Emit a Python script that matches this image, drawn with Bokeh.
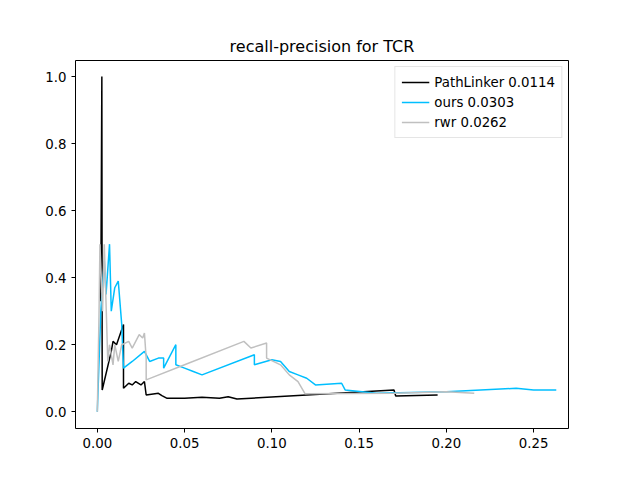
import numpy as np
from bokeh.plotting import figure
from bokeh.models import Range1d, FixedTicker
from bokeh.embed import file_html
from bokeh.resources import INLINE

pl_recall = [0.002, 0.0026, 0.0028, 0.008, 0.009, 0.011, 0.015, 0.015, 0.018, 0.020, 0.022,
             0.025, 0.027, 0.028, 0.035, 0.037, 0.040, 0.050, 0.060, 0.070, 0.075, 0.080,
             0.120, 0.170, 0.171, 0.195]
pl_prec = [0.33, 1.0, 0.065, 0.18, 0.21, 0.20, 0.26, 0.07, 0.085, 0.08, 0.09,
           0.08, 0.09, 0.05, 0.055, 0.048, 0.04, 0.04, 0.043, 0.04, 0.045, 0.038,
           0.05, 0.065, 0.047, 0.05]

ours_recall = [0.0, 0.002, 0.004, 0.005, 0.007, 0.008, 0.010, 0.012, 0.014, 0.015, 0.020,
               0.027, 0.030, 0.035, 0.038, 0.038, 0.045, 0.045, 0.050, 0.055, 0.060, 0.090,
               0.090, 0.100, 0.105, 0.110, 0.115, 0.120, 0.125, 0.140, 0.142, 0.160, 0.200,
               0.240, 0.250, 0.263]
ours_prec = [0.0, 0.30, 0.45, 0.35, 0.50, 0.30, 0.37, 0.39, 0.26, 0.13, 0.15,
             0.18, 0.15, 0.16, 0.16, 0.13, 0.20, 0.14, 0.13, 0.12, 0.11, 0.17,
             0.14, 0.155, 0.15, 0.12, 0.11, 0.10, 0.08, 0.085, 0.065, 0.055, 0.06,
             0.07, 0.065, 0.065]

rwr_recall = [0.0, 0.001, 0.0015, 0.003, 0.004, 0.006, 0.007, 0.009, 0.010, 0.012, 0.014,
              0.018, 0.020, 0.024, 0.026, 0.027, 0.028, 0.028, 0.050, 0.084, 0.088, 0.097,
              0.097, 0.105, 0.110, 0.115, 0.119, 0.170, 0.200, 0.216]
rwr_prec = [0.0, 0.30, 0.50, 0.30, 0.50, 0.15, 0.20, 0.14, 0.20, 0.15, 0.20,
            0.21, 0.19, 0.23, 0.22, 0.235, 0.16, 0.095, 0.14, 0.21, 0.19, 0.205,
            0.16, 0.14, 0.11, 0.09, 0.054, 0.055, 0.06, 0.055]

p = figure(width=624, height=464, title="recall-precision for TCR",
           output_backend="svg", toolbar_location=None,
           x_range=Range1d(-0.0125, 0.27), y_range=Range1d(-0.05, 1.048),
           min_border_left=75, min_border_right=56, min_border_top=60, min_border_bottom=36)
p.title.align = "center"
p.title.text_font = "DejaVu Sans"
p.title.text_font_size = "12pt"
p.title.text_font_style = "normal"
p.title.text_color = "black"
p.grid.visible = False
p.outline_line_color = "black"
p.xaxis.ticker = FixedTicker(ticks=[0, 0.05, 0.1, 0.15, 0.2, 0.25])
p.yaxis.ticker = FixedTicker(ticks=[0, 0.2, 0.4, 0.6, 0.8, 1.0])
p.xaxis.major_label_overrides = {0: "0.00", 0.05: "0.05", 0.1: "0.10", 0.15: "0.15", 0.2: "0.20", 0.25: "0.25"}
p.yaxis.major_label_overrides = {0: "0.0", 0.2: "0.2", 0.4: "0.4", 0.6: "0.6", 0.8: "0.8", 1.0: "1.0"}
for ax in (p.xaxis, p.yaxis):
    ax.minor_tick_line_color = None
    ax.major_label_text_font = "DejaVu Sans"
    ax.major_label_text_font_size = "10pt"
    ax.major_label_text_color = "black"
    ax.major_tick_line_color = "black"
    ax.major_tick_in = 0
    ax.major_tick_out = 4
    ax.axis_line_color = None

p.line(pl_recall, pl_prec, color="black", line_width=1.5, legend_label="PathLinker 0.0114")
p.line(ours_recall, ours_prec, color="deepskyblue", line_width=1.5, legend_label="ours 0.0303")
p.line(rwr_recall, rwr_prec, color="silver", line_width=1.5, legend_label="rwr 0.0262")
p.legend.location = "top_right"
p.legend.label_text_font = "DejaVu Sans"
p.legend.label_text_font_size = "10pt"
p.legend.label_text_color = "black"
p.legend.glyph_height = 18
p.legend.glyph_width = 28
p.legend.spacing = 2
p.legend.padding = 6
p.legend.margin = 6
p.legend.border_line_color = "#cccccc"
p.legend.border_line_width = 1

open("out.html", "w").write(file_html(p, INLINE))
